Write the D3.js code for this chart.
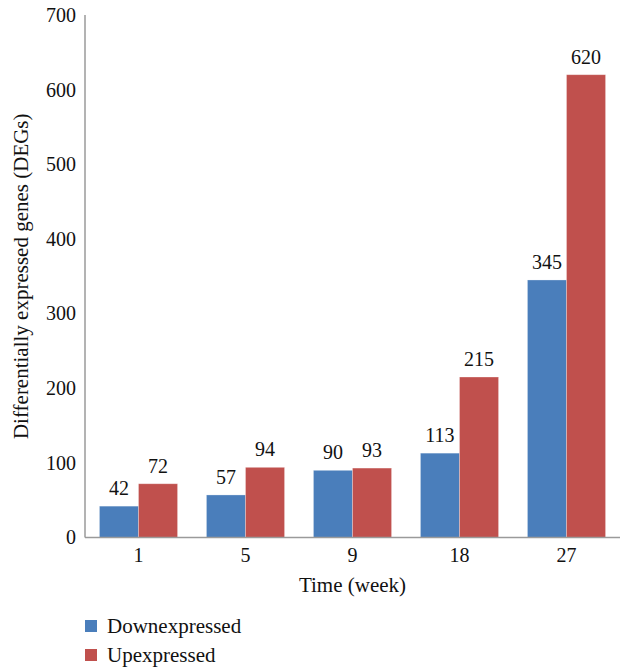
<!DOCTYPE html>
<html>
<head>
<meta charset="utf-8">
<script src="https://cdn.jsdelivr.net/npm/d3@7"></script>
<style>
  body { margin: 0; background: #fff; }
</style>
</head>
<body>
<svg id="chart" width="622" height="667"></svg>
<script>
const weeks = ["1", "5", "9", "18", "27"];
const downexpressed = [42, 57, 90, 113, 345];
const upexpressed = [72, 94, 93, 215, 620];
const seriesNames = ["Downexpressed", "Upexpressed"];
const seriesColors = ["#4a7ebb", "#c0504d"];
const yTicks = [0, 100, 200, 300, 400, 500, 600, 700];

const fontStack = "'Liberation Serif', 'Times New Roman', Times, 'DejaVu Serif', serif";
const svg = d3.select("#chart").style("font-family", fontStack);
const plotLeft = 85, plotRight = 620, plotTop = 15, plotBottom = 537.5;
const numSize = 20, wordSize = 21;

const x = d3.scaleBand().domain(weeks).range([plotLeft, plotRight]).paddingInner(0.27).paddingOuter(0.135);
const xs = d3.scaleBand().domain(seriesNames).range([0, x.bandwidth()]);
const y = d3.scaleLinear().domain([0, 700]).range([plotBottom, plotTop]);

const rows = weeks.map((w, i) => ({ week: w, values: [downexpressed[i], upexpressed[i]] }));

const groups = svg.append("g").selectAll("g").data(rows).join("g")
  .attr("transform", d => `translate(${x(d.week)},0)`);

groups.selectAll("rect").data(d => d.values.map((v, j) => ({ v, j }))).join("rect")
  .attr("x", d => xs(seriesNames[d.j]))
  .attr("y", d => y(d.v))
  .attr("width", xs.bandwidth())
  .attr("height", d => y(0) - y(d.v))
  .attr("fill", d => seriesColors[d.j])
  .attr("stroke", "rgba(255,255,255,0.35)")
  .attr("stroke-width", 0.8);

groups.selectAll("text.val").data(d => d.values.map((v, j) => ({ v, j }))).join("text")
  .attr("class", "val")
  .attr("x", d => xs(seriesNames[d.j]) + xs.bandwidth() / 2)
  .attr("y", d => y(d.v) - 11)
  .attr("text-anchor", "middle")
  .attr("font-size", numSize)
  .style("font-family", fontStack)
  .attr("fill", "#111")
  .text(d => d.v);

// Axes: plain grey lines, no tick marks
const yAxis = svg.append("g").attr("transform", `translate(${plotLeft},0)`)
  .call(d3.axisLeft(y).tickValues(yTicks).tickSize(0).tickPadding(9));
const xAxis = svg.append("g").attr("transform", `translate(0,${plotBottom})`)
  .call(d3.axisBottom(x).tickSize(0).tickPadding(10));
[yAxis, xAxis].forEach(a => {
  a.attr("font-family", null).attr("font-size", null);
  a.select(".domain").attr("stroke", "#9a9a9a").attr("stroke-width", 1.5);
  a.selectAll("text").attr("font-size", numSize).style("font-family", fontStack).attr("fill", "#111");
});
xAxis.select(".domain").attr("d", `M${plotLeft},0H${plotRight}`);
yAxis.select(".domain").attr("d", `M0,${y(0)}V${y(700)}`);

svg.append("text")
  .attr("x", (plotLeft + plotRight) / 2).attr("y", 592)
  .attr("text-anchor", "middle").attr("font-size", wordSize)
  .style("font-family", fontStack).attr("fill", "#111")
  .text("Time (week)");

svg.append("text")
  .attr("transform", `translate(28,${(plotTop + plotBottom) / 2}) rotate(-90)`)
  .attr("text-anchor", "middle").attr("font-size", wordSize)
  .style("font-family", fontStack).attr("fill", "#111")
  .text("Differentially expressed genes (DEGs)");

// Legend
const legend = svg.append("g").attr("transform", "translate(85,620)");
seriesNames.forEach((name, i) => {
  const g = legend.append("g").attr("transform", `translate(0,${i * 29})`);
  g.append("rect").attr("width", 12).attr("height", 12).attr("fill", seriesColors[i]);
  g.append("text").attr("x", 22).attr("y", 12.7).attr("font-size", wordSize)
    .style("font-family", fontStack).attr("fill", "#111").text(name);
});
</script>
</body>
</html>
